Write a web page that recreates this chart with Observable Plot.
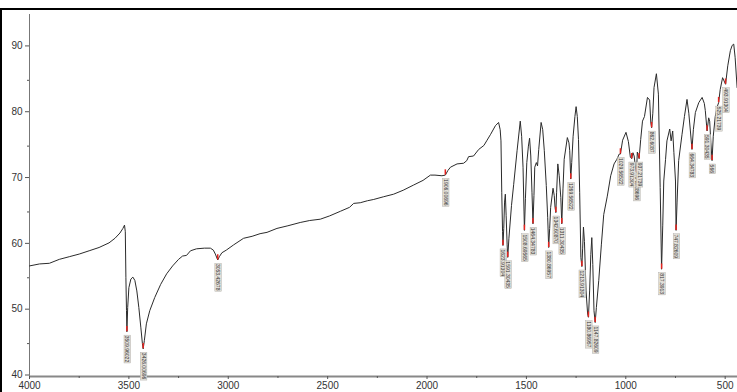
<!DOCTYPE html>
<html>
<head>
<meta charset="utf-8">
<script src="https://cdn.jsdelivr.net/npm/d3@7"></script>
<script src="https://cdn.jsdelivr.net/npm/@observablehq/plot@0.6"></script>
<style>
  html, body { margin: 0; padding: 0; background: #fff; }
  #wrap { position: relative; width: 737px; height: 392px; overflow: hidden; }
  #wrap svg { position: absolute; left: 0; top: 0; }
  .frame-top { position: absolute; left: 0; top: 8px; width: 737px; height: 2px; background: #000; }
  .frame-left { position: absolute; left: 0; top: 8px; width: 2px; height: 384px; background: #000; }
</style>
</head>
<body>
<div id="wrap"><div class="frame-top"></div><div class="frame-left"></div></div>
<script>
// Wavenumber (cm-1) and transmittance (%)
const wavenumber = [4000,3950,3900,3850,3800,3750,3700,3650,3600,3570,3545,3530,3522,3518,3515,3512,3510,3506,3500,3490,3480,3470,3460,3450,3440,3432,3428,3422,3412,3395,3370,3340,3310,3280,3250,3230,3210,3190,3160,3120,3090,3075,3065,3053,3045,3032,3010,2973,2923,2880,2840,2805,2755,2700,2638,2590,2537,2490,2436,2390,2369,2336,2300,2268,2220,2168,2120,2067,2020,1983,1960,1925,1908,1895,1882,1849,1816,1800,1791,1766,1740,1714,1698,1680,1656,1640,1632,1628,1624,1620,1618,1614,1610,1606,1602,1597,1594,1588,1575,1564,1547,1531,1524,1517,1512,1510,1505,1498,1490,1484,1478,1472,1467,1462,1458,1450,1444,1438,1426,1418,1410,1400,1393,1388,1383,1378,1366,1360,1356,1352,1348,1342,1335,1327,1322,1316,1310,1294,1286,1282,1277,1272,1265,1256,1250,1244,1238,1232,1226,1221,1217,1213,1208,1200,1192,1188,1182,1176,1171,1166,1160,1154,1148,1136,1123,1111,1093,1076,1059,1045,1033,1027,1016,999,987,977,970,964,958,950,946,942,937,933,925,916,906,891,880,874,870,864,858,846,836,827,820,814,809,800,793,779,772,764,758,750,747,742,734,717,705,692,683,675,667,660,650,633,616,605,600,591,583,578,572,566,560,550,541,533,525,513,498,487,474,465,457,450,440];
const transmittance = [56.8,57.1,57.2,57.8,58.2,58.6,59.1,59.6,60.3,61.0,61.8,62.5,63.0,62.0,55.0,50.0,46.8,50.5,53.5,54.8,55.1,54.6,53.0,50.5,47.5,45.0,44.2,45.5,48.0,50.0,52.0,54.0,55.6,56.8,57.8,58.3,58.4,59.1,59.4,59.5,59.5,59.2,58.6,57.7,58.2,58.8,59.2,60.0,61.0,61.3,61.7,61.9,62.5,62.9,63.4,63.7,63.9,64.4,65.1,65.7,66.3,66.4,66.7,66.9,67.3,67.7,68.3,69.1,69.8,70.6,70.6,70.5,70.6,71.3,71.8,72.3,72.4,72.8,73.4,73.5,74.5,75.1,75.9,76.8,78.1,78.6,77.5,75.8,68.0,62.0,59.9,62.5,66.5,67.7,64.5,60.0,58.1,61.0,66.0,69.2,74.3,78.8,76.5,71.8,65.0,62.2,67.0,72.5,75.0,76.2,73.5,68.0,63.2,67.5,71.8,72.5,72.0,74.5,78.6,77.5,74.3,69.0,64.2,59.6,62.5,65.7,68.6,67.5,65.7,64.9,68.0,72.3,70.5,67.2,63.2,68.5,73.0,76.3,75.5,74.3,70.0,72.5,76.5,79.5,81.0,79.5,76.0,68.0,58.1,56.7,59.5,62.7,60.5,53.0,49.5,49.0,53.0,58.5,61.1,57.0,50.0,48.2,50.5,54.6,60.0,64.6,67.4,70.5,72.3,73.0,73.8,73.8,75.9,77.1,75.7,73.3,73.1,74.0,73.5,71.5,71.0,74.1,73.5,73.1,76.0,78.8,79.5,82.4,82.0,78.5,77.8,80.0,83.9,86.0,82.9,68.7,56.3,63.0,69.7,73.0,75.8,77.6,75.8,77.3,74.0,69.7,62.2,66.5,72.8,76.8,79.5,82.1,80.0,77.3,74.5,77.5,80.1,81.6,82.4,81.5,80.4,77.3,79.3,78.8,75.5,72.8,76.5,79.5,80.9,81.6,83.6,85.4,84.4,87.2,89.5,90.3,90.5,88.5,83.9];

// Picked peaks: position, transmittance, annotation text
const peakWavenumber = [3510,3428,3053,1908,1618,1594,1510,1467,1388,1352,1322,1277,1221,1188,1154,1027,970,946,933,870,820,747,667,591,566,533,498];
const peakTransmittance = [46.8,44.2,57.7,70.6,59.9,58.1,62.2,63.2,59.6,64.9,63.2,70.0,56.7,49.0,48.2,73.8,73.1,71.0,73.1,77.8,56.3,62.2,74.5,77.3,72.8,81.6,84.4];
const peakLabel = ["3509.96022","3426.00696","3053.42678","1906.00696","1623.91304","1591.30435","1508.69565","1464.34783","1380.86957","1342.60870","1311.30435","1269.56522","1213.91304","1180.86957","1147.82609","1029.56522","973.91304","946.08696","937.21739","862.6087","817.3913","747.82609","664.34783","591.30435","566","525.21739","493.91304"];

const xMajor = [4000,3500,3000,2500,2000,1500,1000,500];
const xMinor = [3750,3250,2750,2250,1750,1250,750];
const yMajor = [40,50,60,70,80,90];
const yMinor = [45,55,65,75,85];

const spectrum = wavenumber.map((w, i) => ({w, t: transmittance[i]}));
const peaks = peakWavenumber.map((w, i) => ({w, t: peakTransmittance[i], label: peakLabel[i]}));

const chart = Plot.plot({
  width: 737,
  height: 392,
  marginLeft: 29,
  marginRight: 0,
  marginTop: 14,
  marginBottom: 16,
  style: {fontFamily: "'Liberation Sans', Arial, sans-serif", color: "#333", background: "transparent"},
  x: {domain: [4000, 438]},
  y: {domain: [40, 95]},
  marks: [
    Plot.ruleX([4000], {stroke: "#777", strokeWidth: 1}),
    Plot.ruleY([40], {stroke: "#888", strokeWidth: 2}),
    Plot.axisX({ticks: xMajor, tickSize: 3, tickPadding: 2, fontSize: 10, label: null, stroke: "#555", tickFormat: d => String(d)}),
    Plot.axisX({ticks: xMinor, tickSize: 2, tickFormat: () => "", label: null, stroke: "#555"}),
    Plot.axisY({ticks: yMajor, tickSize: 4, tickPadding: 3, fontSize: 10, label: null, stroke: "#555", tickFormat: d => String(d), dy: -1.5}),
    Plot.axisY({ticks: yMinor, tickSize: 2, tickFormat: () => "", label: null, stroke: "#555"}),
    Plot.line(spectrum, {x: "w", y: "t", stroke: "#2b2b2b", strokeWidth: 1, curve: "linear"}),
    Plot.ruleX(peaks, {x: "w", y1: "t", y2: d => d.t + 0.8, stroke: "#e8231f", strokeWidth: 1.5}),
    Plot.text(peaks, {x: "w", y: "t", text: "label", rotate: 90, textAnchor: "start", dy: 4, fontSize: 5, fill: "#333"})
  ]
});
document.getElementById("wrap").prepend(chart);

// light boxes behind the peak annotations
const labelSet = new Set(peakLabel);
chart.querySelectorAll("text").forEach(t => {
  if (!labelSet.has(t.textContent)) return;
  const b = t.getBBox();
  const r = document.createElementNS("http://www.w3.org/2000/svg", "rect");
  r.setAttribute("x", b.x - 0.6);
  r.setAttribute("y", b.y - 0.3);
  r.setAttribute("width", b.width + 1.2);
  r.setAttribute("height", b.height + 0.6);
  r.setAttribute("fill", "#e2dfd8");
  r.setAttribute("stroke", "#a9a6a0");
  r.setAttribute("stroke-width", 0.4);
  const tr = t.getAttribute("transform");
  if (tr) r.setAttribute("transform", tr);
  t.parentNode.insertBefore(r, t);
});
</script>
</body>
</html>
